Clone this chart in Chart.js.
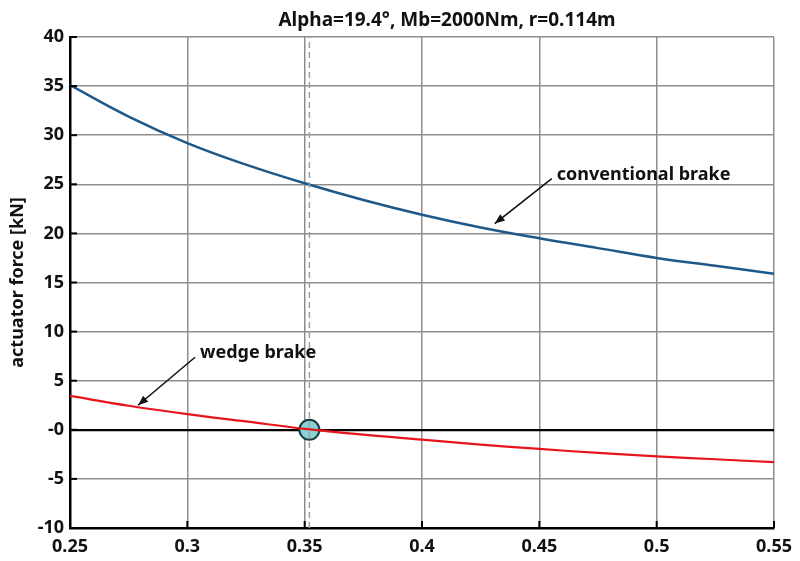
<!DOCTYPE html>
<html>
<head>
<meta charset="utf-8">
<script src="https://cdn.jsdelivr.net/npm/chart.js@4.4.0/dist/chart.umd.min.js"></script>
<style>
  html, body { margin: 0; padding: 0; background: #fff; }
  #wrap { width: 800px; height: 561px; }
</style>
</head>
<body>
<div id="wrap"><canvas id="grafico" width="800" height="561"></canvas></div>
<script>
// --------- Datos ---------
const MU = [0.25, 0.275, 0.3, 0.325, 0.35, 0.375, 0.4, 0.425, 0.45, 0.475, 0.5, 0.525, 0.55];
const CONVENCIONAL = [35.1, 31.9, 29.2, 27.0, 25.1, 23.4, 21.9, 20.6, 19.5, 18.5, 17.5, 16.7, 15.9];
const CUNA = [3.45, 2.45, 1.6, 0.85, 0.1, -0.5, -1.0, -1.5, -1.95, -2.35, -2.7, -3.0, -3.3];
const MU_CRITICO = 0.352;
const Y_TICKS = [-10, -5, 0, 5, 10, 15, 20, 25, 30, 35, 40];
const TITULO = 'Alpha=19.4°, Mb=2000Nm, r=0.114m';

const FUENTE = "'Noto Sans', 'DejaVu Sans', sans-serif";

// anotaciones: punta de flecha en datos, cola en px relativa
const ANOTACIONES = [
  { texto: 'conventional brake', x: 0.431, y: 21.0, dx: 57, dy: -45 },
  { texto: 'wedge brake', x: 0.279, y: 2.5, dx: 57, dy: -48 },
];

function xy(xs, ys) {
  return xs.map((x, i) => ({ x, y: ys[i] }));
}

const pluginExtras = {
  id: 'extras',
  afterDatasetsDraw(chart) {
    const { ctx, chartArea, scales } = chart;
    ctx.save();
    // marcas interiores de los ejes
    ctx.strokeStyle = '#000';
    ctx.lineWidth = 2;
    Y_TICKS.forEach(v => {
      const py = scales.y.getPixelForValue(v);
      ctx.beginPath();
      ctx.moveTo(chartArea.left, py);
      ctx.lineTo(chartArea.left + 7, py);
      ctx.stroke();
    });
    scales.x.ticks.forEach(t => {
      const px = scales.x.getPixelForValue(t.value);
      ctx.beginPath();
      ctx.moveTo(px, chartArea.bottom);
      ctx.lineTo(px, chartArea.bottom - 7);
      ctx.stroke();
    });

    // título
    ctx.fillStyle = '#111';
    ctx.font = `bold 19px ${FUENTE}`;
    ctx.textAlign = 'center';
    ctx.textBaseline = 'middle';
    ctx.fillText(TITULO, 447, 21);

    // flechas y textos
    ANOTACIONES.forEach(a => {
      const tx = scales.x.getPixelForValue(a.x);
      const ty = scales.y.getPixelForValue(a.y);
      const sx = tx + a.dx;
      const sy = ty + a.dy;
      ctx.strokeStyle = '#111';
      ctx.fillStyle = '#111';
      ctx.lineWidth = 1.6;
      ctx.beginPath();
      ctx.moveTo(sx, sy);
      ctx.lineTo(tx, ty);
      ctx.stroke();
      const ang = Math.atan2(ty - sy, tx - sx);
      const L = 10, W = 4;
      ctx.beginPath();
      ctx.moveTo(tx, ty);
      ctx.lineTo(tx - L * Math.cos(ang) + W * Math.sin(ang), ty - L * Math.sin(ang) - W * Math.cos(ang));
      ctx.lineTo(tx - L * Math.cos(ang) - W * Math.sin(ang), ty - L * Math.sin(ang) + W * Math.cos(ang));
      ctx.closePath();
      ctx.fill();
      ctx.font = `bold 18px ${FUENTE}`;
      ctx.textAlign = 'left';
      ctx.textBaseline = 'middle';
      ctx.fillText(a.texto, sx + 5, sy - 4);
    });
    ctx.restore();
  }
};

new Chart(document.getElementById('grafico'), {
  type: 'line',
  data: {
    datasets: [
      {
        label: 'mu critico',
        data: [{ x: MU_CRITICO, y: Y_TICKS[0] }, { x: MU_CRITICO, y: Y_TICKS[Y_TICKS.length - 1] }],
        borderColor: '#a0a0a0',
        borderWidth: 1.5,
        borderDash: [6, 4],
        pointRadius: 0,
      },
      {
        label: 'conventional brake',
        data: xy(MU, CONVENCIONAL),
        borderColor: '#1d5888',
        borderWidth: 2.5,
        tension: 0.4,
        pointRadius: 0,
      },
      {
        label: 'wedge brake',
        data: xy(MU, CUNA),
        borderColor: '#e8141c',
        borderWidth: 2.2,
        tension: 0.4,
        pointRadius: 0,
      },
      {
        type: 'scatter',
        label: 'punto',
        data: [{ x: MU_CRITICO, y: 0 }],
        pointRadius: 10,
        pointBackgroundColor: '#86d4d6',
        pointBorderColor: '#1c3c40',
        pointBorderWidth: 2,
      },
    ],
  },
  options: {
    responsive: false,
    animation: false,
    layout: { padding: { top: 37, right: 22, left: 0, bottom: 0 } },
    plugins: { legend: { display: false }, tooltip: { enabled: false }, title: { display: false } },
    scales: {
      x: {
        type: 'linear',
        min: 0.25,
        max: 0.55,
        afterFit: s => { s.height = 33; },
        afterBuildTicks: s => {
          s.ticks = MU.filter((m, i) => i % 2 === 0).map(v => ({ value: v }));
        },
        ticks: {
          padding: 8,
          color: '#111',
          font: { family: FUENTE, size: 18, weight: 'bold' },
          maxRotation: 0,
          callback: v => String(Number(v.toFixed(2))),
        },
        grid: { color: '#8e8e8e', lineWidth: 1.5, drawTicks: false },
        border: { color: '#000', width: 2.5 },
      },
      y: {
        min: -10,
        max: 40,
        afterFit: s => { s.width = 70; },
        afterBuildTicks: s => { s.ticks = Y_TICKS.map(v => ({ value: v })); },
        ticks: {
          padding: 6,
          color: '#111',
          font: { family: FUENTE, size: 18, weight: 'bold' },
          callback: v => (v === 0 ? '-0' : String(v)),
        },
        grid: {
          color: c => (c.tick && c.tick.value === 0 ? '#000' : '#8e8e8e'),
          lineWidth: c => (c.tick && c.tick.value === 0 ? 2.2 : 1.5),
          drawTicks: false,
        },
        border: { color: '#000', width: 2.5 },
        title: {
          display: true,
          text: 'actuator force [kN]',
          color: '#111',
          font: { family: FUENTE, size: 18, weight: 'bold' },
          padding: { top: 7, bottom: 0 },
        },
      },
    },
  },
  plugins: [pluginExtras],
});
</script>
</body>
</html>
